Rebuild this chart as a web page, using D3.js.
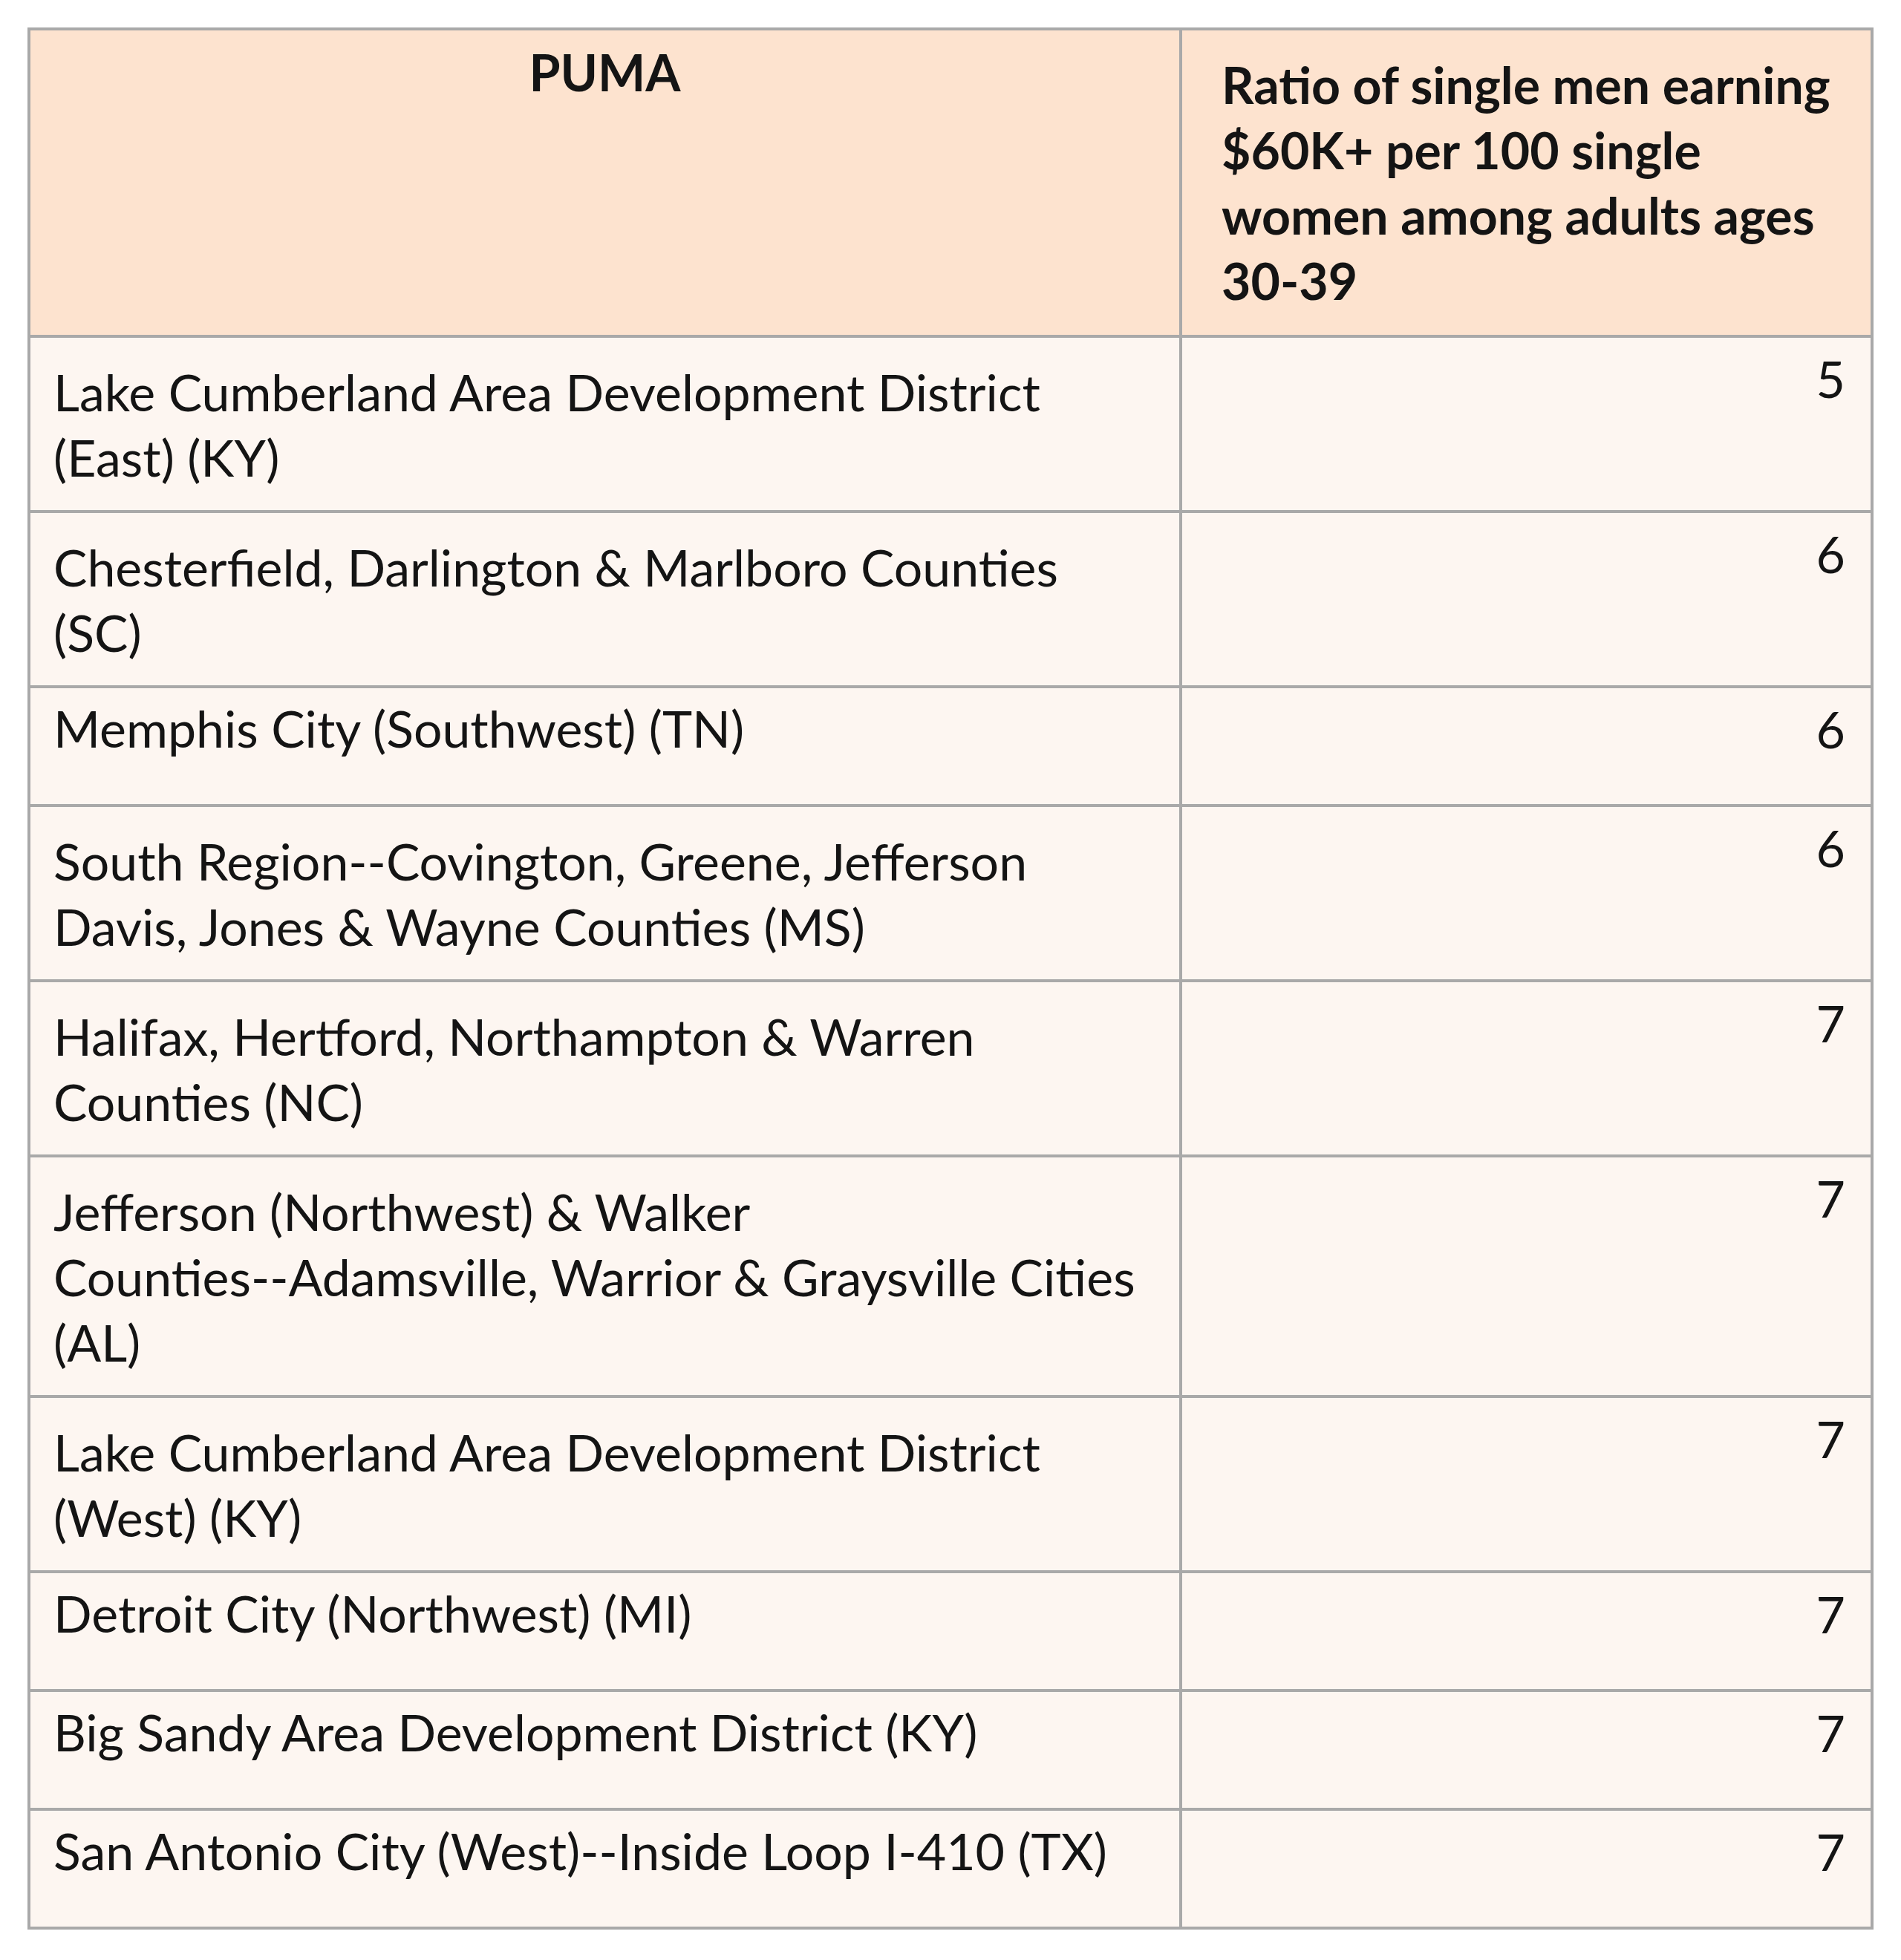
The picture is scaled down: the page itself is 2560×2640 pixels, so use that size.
<!DOCTYPE html>
<html>
<head>
<meta charset="utf-8">
<script src="https://cdn.jsdelivr.net/npm/d3@7"></script>
<style>
  html, body { margin: 0; padding: 0; background: #fff; }
  svg { display: block; }
  text { font-family: Lato, "Open Sans", sans-serif; fill: #141414; }
</style>
</head>
<body>
<div id="chart"></div>
<script>
// table data
const headers = ["PUMA", "Ratio of single men earning $60K+ per 100 single women among adults ages 30-39"];
const pumas = [
  "Lake Cumberland Area Development District (East) (KY)",
  "Chesterfield, Darlington & Marlboro Counties (SC)",
  "Memphis City (Southwest) (TN)",
  "South Region--Covington, Greene, Jefferson Davis, Jones & Wayne Counties (MS)",
  "Halifax, Hertford, Northampton & Warren Counties (NC)",
  "Jefferson (Northwest) & Walker Counties--Adamsville, Warrior & Graysville Cities (AL)",
  "Lake Cumberland Area Development District (West) (KY)",
  "Detroit City (Northwest) (MI)",
  "Big Sandy Area Development District (KY)",
  "San Antonio City (West)--Inside Loop I-410 (TX)"
];
const ratios = [5, 6, 6, 6, 7, 7, 7, 7, 7, 7];

const W = 2560, H = 2640;
const x0 = 39, x1 = 2521, y0 = 39, divider = 1590;
const pad = 36, lineH = 88, fontSize = 68;
const headerH = 414;

const svg = d3.select('#chart').append('svg')
    .attr('width', W).attr('height', H)
    .attr('viewBox', `0 0 ${W} ${H}`);

// word wrap using real text measurement
const probe = svg.append('text').attr('font-size', fontSize).attr('x', -9999);
function wrap(str, maxW, weight) {
  probe.attr('font-weight', weight || 'normal');
  const words = str.split(' ');
  const lines = [];
  let cur = '';
  words.forEach(w => {
    const test = cur ? cur + ' ' + w : w;
    probe.text(test);
    if (cur && probe.node().getComputedTextLength() > maxW) {
      lines.push(cur);
      cur = w;
    } else cur = test;
  });
  if (cur) lines.push(cur);
  return lines;
}

const colW = divider - x0 - 2 * pad - 8;
const rows = pumas.map((p, i) => ({ name: p, lines: wrap(p, colW), value: ratios[i] }));
const hLines = wrap(headers[1], x1 - divider - 2 * 50, 'bold');
probe.remove();

let yy = y0 + headerH;
rows.forEach(r => {
  r.y = yy;
  r.h = r.lines.length === 1 ? 160 : 148 + lineH * (r.lines.length - 1);
  yy += r.h;
});
const yEnd = yy;

// backgrounds
svg.append('rect').attr('x', x0).attr('y', y0)
   .attr('width', x1 - x0).attr('height', headerH).attr('fill', '#fde3cf');
svg.append('rect').attr('x', x0).attr('y', y0 + headerH)
   .attr('width', x1 - x0).attr('height', yEnd - y0 - headerH).attr('fill', '#fdf6f1');

// header text
svg.append('text')
   .attr('x', (x0 + divider) / 2).attr('y', y0 + 84)
   .attr('text-anchor', 'middle').attr('font-size', fontSize).attr('font-weight', 'bold')
   .text(headers[0]);

svg.append('text')
   .attr('font-size', fontSize).attr('font-weight', 'bold')
   .selectAll('tspan').data(hLines).join('tspan')
     .attr('x', divider + 55)
     .attr('y', (d, i) => y0 + 101 + i * lineH)
     .text(d => d);

// body rows
const g = svg.append('g').selectAll('g').data(rows).join('g');
g.append('text')
   .attr('font-size', fontSize)
   .selectAll('tspan').data(d => d.lines.map(l => ({ l, r: d }))).join('tspan')
     .attr('x', x0 + 33)
     .attr('y', (d, i) => d.r.y + (d.r.lines.length > 1 ? 101 : 82) + i * lineH)
     .text(d => d.l);
g.append('text')
   .attr('x', x1 - pad).attr('y', d => d.y + 83)
   .attr('text-anchor', 'end').attr('font-size', fontSize)
   .text(d => d.value);

// grid lines
const lineColor = '#a9a9a9', sw = 4;
const hs = [y0, y0 + headerH].concat(rows.map(r => r.y + r.h));
svg.append('g').selectAll('line').data(hs).join('line')
   .attr('x1', x0).attr('x2', x1).attr('y1', d => d).attr('y2', d => d)
   .attr('stroke', lineColor).attr('stroke-width', sw);
svg.append('g').selectAll('line').data([x0, divider, x1]).join('line')
   .attr('x1', d => d).attr('x2', d => d).attr('y1', y0 - sw / 2).attr('y2', yEnd + sw / 2)
   .attr('stroke', lineColor).attr('stroke-width', sw);
</script>
</body>
</html>
